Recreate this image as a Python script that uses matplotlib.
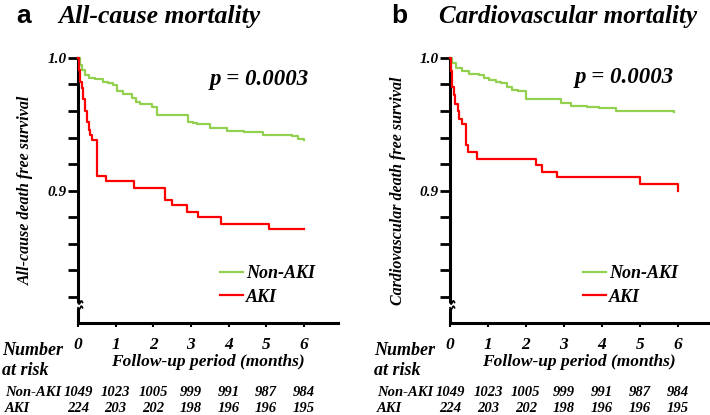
import numpy as np
import matplotlib
matplotlib.use("Agg")
import matplotlib.pyplot as plt

# Kaplan-Meier step data (time in months, survival)
green_a_t = [0, 0.05, 0.1, 0.19, 0.3, 0.45, 0.66, 0.8, 0.93, 1.04, 1.2, 1.44, 1.55, 1.65,
             1.97, 2.1, 2.93, 3.05, 3.17, 3.5, 3.96, 4.4, 4.93, 5.7, 5.85, 6.0]
green_a_s = [1.0, 0.995, 0.991, 0.987, 0.985, 0.984, 0.982, 0.981, 0.980, 0.975, 0.973, 0.970,
             0.967, 0.965, 0.963, 0.957, 0.952, 0.951, 0.950, 0.947, 0.945, 0.944, 0.942, 0.941,
             0.939, 0.938]
red_a_t = [0, 0.03, 0.06, 0.1, 0.14, 0.18, 0.23, 0.28, 0.33, 0.37, 0.5, 0.75, 1.49, 2.31, 2.5,
           2.9, 3.19, 3.8, 5.08, 6.0]
red_a_s = [1.0, 0.991, 0.982, 0.977, 0.969, 0.960, 0.952, 0.946, 0.942, 0.938, 0.911, 0.907,
           0.902, 0.893, 0.889, 0.884, 0.880, 0.875, 0.871, 0.871]

green_b_t = [0, 0.06, 0.16, 0.32, 0.5, 0.76, 0.9, 1.03, 1.2, 1.34, 1.5, 1.63, 1.8, 2.0, 2.92,
             3.2, 3.6, 3.92, 4.37, 5.9]
green_b_s = [1.0, 0.996, 0.9925, 0.990, 0.988, 0.987, 0.985, 0.9836, 0.982, 0.981, 0.978, 0.976,
             0.975, 0.969, 0.966, 0.964, 0.963, 0.962, 0.960, 0.959]
red_b_t = [0, 0.03, 0.06, 0.1, 0.13, 0.2, 0.24, 0.32, 0.42, 0.48, 0.72, 2.27, 2.42, 2.81, 5.0, 6.0]
red_b_s = [1.0, 0.99, 0.978, 0.972, 0.965, 0.960, 0.954, 0.950, 0.934, 0.929, 0.924, 0.919,
           0.914, 0.910, 0.905, 0.900]

months = [0, 1, 2, 3, 4, 5, 6]
risk_non_aki = [1049, 1023, 1005, 999, 991, 987, 984]
risk_aki = [224, 203, 202, 198, 196, 196, 195]

panel_letters = ["a", "b"]
panel_titles = ["All-cause mortality", "Cardiovascular mortality"]
y_labels = ["All-cause death free survival", "Cardiovascular death free survival"]
p_text = "p = 0.0003"

GREEN = "#92d050"
RED = "#ff0000"
SERIF = "Liberation Serif"
BI = dict(fontfamily=SERIF, fontweight="bold", fontstyle="italic")

fig = plt.figure(figsize=(7.1, 4.15), dpi=100)

panels = [
    dict(rect=[78 / 710, 92 / 415, 260 / 710, 265 / 415], xmax=6.91,
         green=(green_a_t, green_a_s), red=(red_a_t, red_a_s),
         letter_x=16, title_x=58, title_size=18.5, p_xy=(0.696, 0.917), leg_x=0.546),
    dict(rect=[450 / 710, 92 / 415, 258 / 710, 265 / 415], xmax=6.8,
         green=(green_b_t, green_b_s), red=(red_b_t, red_b_s),
         letter_x=391, title_x=439, title_size=18, p_xy=(0.674, 0.928), leg_x=0.515),
]

for i, p in enumerate(panels):
    ax = fig.add_axes(p["rect"])
    ax.step(p["green"][0], p["green"][1], where="post", color=GREEN, lw=1.6,
            clip_on=False, label="Non-AKI", zorder=3)
    ax.step(p["red"][0], p["red"][1], where="post", color=RED, lw=1.6,
            clip_on=False, label="AKI", zorder=4)
    ax.set_xlim(0, p["xmax"])
    ax.set_ylim(0.80, 1.0)

    for s in ["top", "right"]:
        ax.spines[s].set_visible(False)
    ax.spines["left"].set_linewidth(2.2)
    ax.spines["bottom"].set_linewidth(2.2)
    ax.spines["left"].set_bounds(0.8165, 1.0)

    # axis break on y
    ax.plot([0, 0], [0.80, 0.811], color="black", lw=2.2, clip_on=False,
            solid_capstyle="butt")
    sq = np.linspace(-1, 1, 20)
    for yb in [0.8155, 0.8115]:
        ax.plot(0.06 * (sq + 1), yb + 0.0012 * np.sin(sq * np.pi), color="black",
                lw=1.2, clip_on=False)

    yt = np.arange(0.82, 1.0001, 0.02)
    ax.set_yticks(yt)
    ax.set_yticklabels(["1.0" if abs(v - 1.0) < 1e-6 else ("0.9" if abs(v - 0.9) < 1e-6 else "")
                        for v in yt])
    ax.tick_params(axis="y", length=7, width=2, pad=1)
    ax.set_xticks(months)
    ax.tick_params(axis="x", length=3, width=1.5, pad=7)
    for lab in ax.get_xticklabels():
        lab.set(**BI, fontsize=12.5)
    for lab in ax.get_yticklabels():
        lab.set(**BI, fontsize=11)

    ax.set_xlabel("Follow-up period (months)", **BI, fontsize=12.5, labelpad=1)
    ax.set_ylabel(y_labels[i], **BI, fontsize=11.5, labelpad=10)

    ax.text(p["p_xy"][0], p["p_xy"][1], p_text, transform=ax.transAxes, ha="center",
            va="center", **BI, fontsize=16.5)

    ax.legend(loc="lower left", bbox_to_anchor=(p["leg_x"], 0.065), frameon=False,
              borderpad=0, borderaxespad=0, handlelength=1.3, handletextpad=0.15,
              labelspacing=0.35, prop=dict(family=SERIF, weight="bold", style="italic", size=13))

    # titles
    fig.text(p["letter_x"] / 710, 1 - 16 / 415, panel_letters[i], fontfamily="Liberation Sans",
             fontweight="bold", fontsize=19, va="center", ha="left")
    fig.text(p["title_x"] / 710, 1 - 16 / 415, panel_titles[i], **BI,
             fontsize=p["title_size"], va="center", ha="left")

    # number at risk
    x0 = p["rect"][0]
    fig.text(x0 - 76 / 710, 1 - 350 / 415, "Number", **BI, fontsize=13, va="center", ha="left")
    fig.text(x0 - 76 / 710, 1 - 370 / 415, "at risk", **BI, fontsize=13, va="center", ha="left")
    fig.text(x0 - 73 / 710, 1 - 392 / 415, "Non-AKI", **BI, fontsize=10.5, va="center", ha="left")
    fig.text(x0 - 73 / 710, 1 - 408 / 415, "AKI", **BI, fontsize=10.5, va="center", ha="left")
    tr = ax.get_xaxis_transform()
    for m, n1, n2 in zip(months, risk_non_aki, risk_aki):
        ax.text(m, -(392 - 323) / 265, str(n1), transform=tr, ha="center", va="center",
                **BI, fontsize=10.5, clip_on=False)
        ax.text(m, -(408 - 323) / 265, str(n2), transform=tr, ha="center", va="center",
                **BI, fontsize=10.5, clip_on=False)

fig.savefig("out.png", dpi=100)
